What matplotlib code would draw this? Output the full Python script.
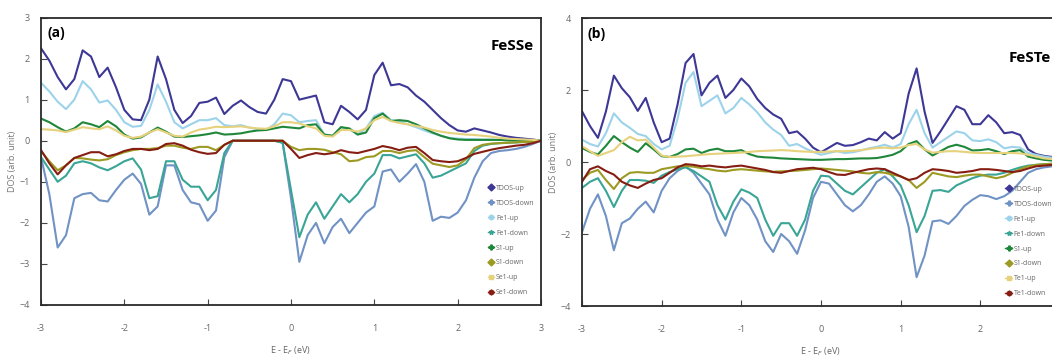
import numpy as np
import matplotlib
matplotlib.use("Agg")
import matplotlib.pyplot as plt
from matplotlib.lines import Line2D

plt.rcParams['font.family'] = ['Open Sans', 'DejaVu Sans']

# energy grid (eV), read every 0.1 eV off the picture
energy = np.round(np.arange(-3.0, 3.01, 0.1), 2)

# ---- panel (a) FeSSe ----
a_tdos_up = [2.25, 1.95, 1.55, 1.25, 1.5, 2.2, 2.05, 1.55, 1.78, 1.3,
             0.75, 0.52, 0.5, 1.0, 2.05, 1.5, 0.75, 0.43, 0.6, 0.92,
             0.95, 1.05, 0.65, 0.85, 0.98, 0.82, 0.7, 0.66, 1.0, 1.5,
             1.45, 1.0, 1.05, 1.1, 0.45, 0.4, 0.85, 0.7, 0.52, 0.75,
             1.6, 1.9, 1.35, 1.38, 1.3, 1.1, 0.95, 0.75, 0.55, 0.38,
             0.25, 0.22, 0.3, 0.25, 0.2, 0.14, 0.1, 0.07, 0.05, 0.03, 0.0]
a_tdos_dn = [-0.4, -1.3, -2.6, -2.3, -1.4, -1.3, -1.27, -1.45, -1.48, -1.2,
             -0.95, -0.8, -1.05, -1.8, -1.6, -0.6, -0.6, -1.2, -1.5, -1.55,
             -1.95, -1.7, -0.4, 0.0, 0.0, 0.0, 0.0, 0.0, 0.0, -0.05,
             -1.4, -2.95, -2.3, -2.0, -2.5, -2.1, -1.9, -2.25, -2.0, -1.75,
             -1.6, -0.75, -0.7, -1.0, -0.8, -0.57, -1.0, -1.95, -1.85, -1.88,
             -1.75, -1.45, -0.9, -0.5, -0.3, -0.25, -0.23, -0.2, -0.15, -0.08, 0.0]
a_fe_up = [1.41, 1.2, 0.95, 0.77, 1.0, 1.45, 1.25, 0.93, 0.98, 0.75,
           0.45, 0.34, 0.36, 0.75, 1.37, 0.95, 0.45, 0.3, 0.4, 0.5,
           0.5, 0.55, 0.38, 0.35, 0.38, 0.32, 0.28, 0.26, 0.4, 0.66,
           0.62, 0.45, 0.48, 0.5, 0.15, 0.12, 0.33, 0.28, 0.15, 0.3,
           0.6, 0.68, 0.5, 0.47, 0.4, 0.33, 0.25, 0.18, 0.12, 0.07,
           0.05, 0.04, 0.04, 0.03, 0.03, 0.02, 0.02, 0.02, 0.01, 0.01, 0.0]
a_fe_dn = [-0.4, -0.7, -1.0, -0.85, -0.55, -0.5, -0.55, -0.65, -0.72, -0.62,
           -0.5, -0.43, -0.7, -1.4, -1.35, -0.5, -0.5, -0.95, -1.12, -1.12,
           -1.45, -1.2, -0.3, 0.0, 0.0, 0.0, 0.0, 0.0, 0.0, -0.05,
           -1.2, -2.35, -1.8, -1.5, -1.9, -1.6, -1.3, -1.5, -1.3, -1.0,
           -0.8, -0.35, -0.35, -0.43, -0.38, -0.33, -0.55, -0.9, -0.85, -0.75,
           -0.65, -0.55, -0.25, -0.12, -0.08, -0.06, -0.05, -0.04, -0.03, -0.02, 0.0]
a_s_up = [0.54, 0.45, 0.33, 0.22, 0.3, 0.45, 0.4, 0.33, 0.48, 0.35,
          0.15, 0.05, 0.08, 0.2, 0.32, 0.22, 0.1, 0.09, 0.11, 0.13,
          0.16, 0.2, 0.15, 0.16, 0.18, 0.22, 0.25, 0.26, 0.3, 0.34,
          0.32, 0.3, 0.38, 0.4, 0.15, 0.12, 0.33, 0.3, 0.15, 0.2,
          0.55, 0.66, 0.48, 0.5, 0.48, 0.4, 0.3, 0.2, 0.12, 0.06,
          0.03, 0.02, 0.02, 0.02, 0.02, 0.02, 0.01, 0.01, 0.01, 0.01, 0.0]
a_s_dn = [-0.25, -0.5, -0.72, -0.6, -0.42, -0.43, -0.46, -0.48, -0.45, -0.35,
          -0.28, -0.23, -0.2, -0.2, -0.18, -0.12, -0.12, -0.17, -0.2, -0.15,
          -0.15, -0.23, -0.1, 0.0, 0.0, 0.0, 0.0, 0.0, 0.0, 0.0,
          -0.15, -0.23, -0.2, -0.2, -0.22, -0.28, -0.33, -0.5, -0.48, -0.4,
          -0.38, -0.25, -0.25, -0.3, -0.25, -0.23, -0.4, -0.56, -0.6, -0.64,
          -0.6, -0.45, -0.18, -0.1, -0.07, -0.06, -0.05, -0.04, -0.03, -0.02, 0.0]
a_x_up = [0.28, 0.27, 0.25, 0.21, 0.27, 0.33, 0.3, 0.28, 0.35, 0.25,
          0.12, 0.07, 0.1, 0.2, 0.28, 0.2, 0.12, 0.1, 0.2, 0.27,
          0.3, 0.34, 0.33, 0.34, 0.35, 0.32, 0.3, 0.29, 0.35, 0.45,
          0.45, 0.42, 0.35, 0.3, 0.12, 0.1, 0.26, 0.26, 0.22, 0.3,
          0.5, 0.58, 0.48, 0.43, 0.4, 0.36, 0.32, 0.26, 0.22, 0.19,
          0.17, 0.15, 0.14, 0.12, 0.1, 0.07, 0.05, 0.04, 0.03, 0.02, 0.0]
a_x_dn = [-0.23, -0.55, -0.82, -0.6, -0.42, -0.35, -0.28, -0.28, -0.38, -0.33,
          -0.25, -0.2, -0.2, -0.23, -0.2, -0.08, -0.06, -0.12, -0.22, -0.28,
          -0.32, -0.3, -0.1, 0.0, 0.0, 0.0, 0.0, 0.0, 0.0, 0.0,
          -0.2, -0.42, -0.35, -0.3, -0.33, -0.3, -0.23, -0.28, -0.3, -0.25,
          -0.2, -0.13, -0.17, -0.23, -0.17, -0.15, -0.3, -0.47, -0.5, -0.52,
          -0.5, -0.42, -0.32, -0.27, -0.22, -0.18, -0.15, -0.12, -0.1, -0.06, 0.0]

# ---- panel (b) FeSTe ----
b_tdos_up = [1.41, 1.0, 0.67, 1.4, 2.4, 2.05, 1.8, 1.42, 1.78, 1.1,
             0.55, 0.65, 1.6, 2.75, 3.0, 1.85, 2.2, 2.4, 1.78, 2.0,
             2.32, 2.1, 1.75, 1.5, 1.32, 1.2, 0.8, 0.85, 0.65, 0.4,
             0.27, 0.4, 0.53, 0.45, 0.47, 0.55, 0.65, 0.6, 0.83, 0.65,
             0.8, 1.9, 2.6, 1.4, 0.53, 0.85, 1.2, 1.55, 1.45, 1.05,
             1.05, 1.3, 1.1, 0.8, 0.83, 0.75, 0.35, 0.22, 0.17, 0.14, 0.1]
b_tdos_dn = [-1.95, -1.3, -0.9, -1.5, -2.45, -1.7, -1.57, -1.3, -1.1, -1.4,
             -0.8, -0.45, -0.25, -0.12, -0.3, -0.6, -0.9, -1.6, -2.05, -1.4,
             -1.0, -1.2, -1.6, -2.2, -2.5, -2.0, -2.2, -2.55, -1.9, -1.0,
             -0.55, -0.6, -0.9, -1.2, -1.37, -1.2, -0.9, -0.55, -0.4, -0.6,
             -0.95, -1.8, -3.2, -2.6, -1.65, -1.62, -1.72, -1.5, -1.22, -1.05,
             -0.92, -0.95, -1.03, -0.95, -0.8, -0.55, -0.3, -0.2, -0.15, -0.12, -0.1]
b_fe_up = [0.62, 0.5, 0.43, 0.8, 1.35, 1.1, 0.95, 0.78, 0.72, 0.5,
           0.35, 0.45, 1.2, 2.2, 2.5, 1.55, 1.7, 1.85, 1.35, 1.5,
           1.78, 1.6, 1.38, 1.1, 0.9, 0.75, 0.45, 0.5, 0.38, 0.28,
           0.2, 0.25, 0.3, 0.25, 0.27, 0.32, 0.38, 0.42, 0.48, 0.4,
           0.5, 1.05, 1.45, 0.8, 0.4, 0.55, 0.7, 0.85, 0.8, 0.6,
           0.58, 0.63, 0.55, 0.38, 0.42, 0.4, 0.25, 0.2, 0.15, 0.12, 0.1]
b_fe_dn = [-0.72, -0.55, -0.45, -0.8, -1.25, -0.8, -0.5, -0.5, -0.52, -0.58,
           -0.38, -0.28, -0.2, -0.15, -0.25, -0.4, -0.55, -1.2, -1.6, -1.1,
           -0.76, -0.85, -1.0, -1.6, -2.05, -1.7, -1.7, -2.05, -1.6, -0.8,
           -0.38, -0.4, -0.6, -0.8, -0.9, -0.7, -0.5, -0.3, -0.2, -0.4,
           -0.65, -1.2, -1.95, -1.5, -0.8, -0.78, -0.83, -0.65, -0.55, -0.45,
           -0.38, -0.35, -0.35, -0.3, -0.22, -0.15, -0.1, -0.08, -0.06, -0.05, -0.05]
b_s_up = [0.39, 0.28, 0.21, 0.45, 0.72, 0.55, 0.4, 0.28, 0.52, 0.35,
          0.16, 0.14, 0.22, 0.35, 0.37, 0.25, 0.33, 0.37, 0.3, 0.3,
          0.33, 0.22, 0.15, 0.13, 0.12, 0.1, 0.09, 0.08, 0.07, 0.06,
          0.06, 0.07, 0.08, 0.08, 0.09, 0.1, 0.1, 0.11, 0.15, 0.2,
          0.3, 0.5, 0.58, 0.35, 0.18, 0.3, 0.42, 0.48, 0.42, 0.32,
          0.33, 0.36, 0.3, 0.22, 0.3, 0.33, 0.15, 0.1, 0.06, 0.04, 0.03]
b_s_dn = [-0.5, -0.3, -0.22, -0.5, -0.75, -0.45, -0.3, -0.28, -0.3, -0.3,
          -0.2, -0.16, -0.12, -0.11, -0.13, -0.17, -0.2, -0.24, -0.26, -0.22,
          -0.2, -0.22, -0.24, -0.26, -0.27, -0.26, -0.25, -0.24, -0.22, -0.2,
          -0.18, -0.2, -0.22, -0.24, -0.26, -0.3, -0.32, -0.28, -0.3, -0.35,
          -0.4, -0.5, -0.72, -0.55, -0.3, -0.35, -0.4, -0.42, -0.38, -0.35,
          -0.35, -0.4, -0.45, -0.4, -0.3, -0.2, -0.12, -0.08, -0.06, -0.05, -0.04]
b_x_up = [0.44, 0.3, 0.17, 0.25, 0.33, 0.55, 0.7, 0.6, 0.62, 0.4,
          0.18, 0.14, 0.15, 0.16, 0.18, 0.2, 0.22, 0.23, 0.24, 0.25,
          0.26, 0.28, 0.3, 0.31, 0.32, 0.33, 0.32, 0.3, 0.29, 0.28,
          0.28, 0.29, 0.3, 0.3, 0.31, 0.33, 0.36, 0.39, 0.4, 0.38,
          0.4, 0.47, 0.5, 0.35, 0.26, 0.28, 0.3, 0.3, 0.28, 0.26,
          0.25, 0.25, 0.25, 0.25, 0.25, 0.24, 0.2, 0.15, 0.1, 0.08, 0.06]
b_x_dn = [-0.55, -0.2, -0.12, -0.25, -0.35, -0.55, -0.65, -0.72, -0.6, -0.5,
          -0.45, -0.3, -0.15, -0.06, -0.08, -0.12, -0.1, -0.13, -0.15, -0.12,
          -0.1, -0.14, -0.18, -0.22, -0.28, -0.3, -0.25, -0.2, -0.18, -0.16,
          -0.2, -0.28, -0.35, -0.36, -0.3, -0.25, -0.2, -0.18, -0.2, -0.3,
          -0.4, -0.5, -0.45, -0.3, -0.2, -0.22, -0.25, -0.3, -0.28, -0.25,
          -0.2, -0.2, -0.22, -0.25, -0.28, -0.25, -0.18, -0.12, -0.1, -0.08, -0.06]

labels_a = ['TDOS-up', 'TDOS-down', 'Fe1-up', 'Fe1-down', 'S1-up', 'S1-down', 'Se1-up', 'Se1-down']
labels_b = ['TDOS-up', 'TDOS-down', 'Fe1-up', 'Fe1-down', 'S1-up', 'S1-down', 'Te1-up', 'Te1-down']
colors = ['#3d3795', '#7092c4', '#9dd3ea', '#3aa596', '#1f8739', '#9c9a22', '#e6d17c', '#861d12']
markers = ['D', 'P', 'h', '*', 'P', 'D', 's', 'h']


def draw_panel(ax, series, labels, ylim, yticks, xticks, tag, name, leg_anchor):
    for vals, c in zip(series, colors):
        ax.plot(energy, vals, color=c, lw=1.5, solid_joinstyle='round')
    ax.set_xlim(-3, 3)
    ax.set_ylim(*ylim)
    ax.set_xticks(xticks)
    ax.set_xticklabels([str(t) for t in xticks])
    ax.set_yticks(yticks)
    ax.tick_params(direction='in', length=4, width=0.8, colors='#444444',
                   labelsize=6.5, labelcolor='#666666', pad=8)
    ax.tick_params(axis='x', pad=14)
    for s in ax.spines.values():
        s.set_linewidth(1.3)
        s.set_color('#2a2a2a')
    ax.set_xlabel('E - E$_F$ (eV)', fontsize=6.5, color='#666666', labelpad=8)
    ax.set_ylabel('DOS (arb. unit)', fontsize=6.5, color='#777777', labelpad=2)
    ax.text(0.012, 0.97, tag, transform=ax.transAxes, fontsize=10,
            fontweight='bold', va='top', ha='left')
    ax.text(name[0], name[1], name[2], transform=ax.transAxes, fontsize=11,
            fontweight='bold', va='center', ha='left')
    handles = [Line2D([], [], color=c, lw=1.0, marker=m, markersize=3.5)
               for c, m in zip(colors, markers)]
    leg = ax.legend(handles, labels, loc='lower left', bbox_to_anchor=leg_anchor,
                    frameon=False, fontsize=5, handlelength=0.9,
                    handletextpad=0.3, labelspacing=1.15, borderaxespad=0)
    for t in leg.get_texts():
        t.set_color('#666666')


fig = plt.figure(figsize=(10.52, 3.56), dpi=100)
ax_a = fig.add_axes([41 / 1052, 1 - 305 / 356, 500 / 1052, 287.5 / 356])
ax_b = fig.add_axes([582 / 1052, 1 - 306 / 356, 478 / 1052, 288 / 356])

draw_panel(ax_a, [a_tdos_up, a_tdos_dn, a_fe_up, a_fe_dn, a_s_up, a_s_dn, a_x_up, a_x_dn],
           labels_a, (-4, 3), [-4, -3, -2, -1, 0, 1, 2, 3], [-3, -2, -1, 0, 1, 2, 3],
           '(a)', (0.9, 0.9, 'FeSSe'), (0.888, 0.02))
draw_panel(ax_b, [b_tdos_up, b_tdos_dn, b_fe_up, b_fe_dn, b_s_up, b_s_dn, b_x_up, b_x_dn],
           labels_b, (-4, 4), [-4, -2, 0, 2, 4], [-3, -2, -1, 0, 1, 2],
           '(b)', (0.893, 0.86, 'FeSTe'), (0.88, 0.02))

fig.savefig('out.png', dpi=100)
